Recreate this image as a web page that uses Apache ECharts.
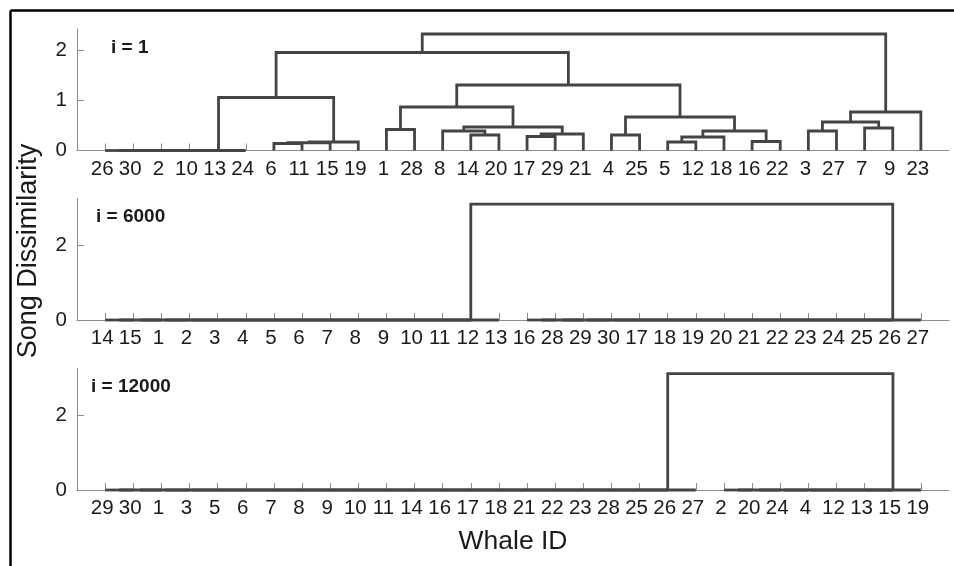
<!DOCTYPE html>
<html><head><meta charset="utf-8">
<script src="https://cdn.jsdelivr.net/npm/echarts@6/dist/echarts.min.js"></script>
<style>html,body{margin:0;padding:0;background:#fff}#c{width:954px;height:566px}</style>
</head><body><div id="c"></div>
<script>
// ---- data ----
const panelTitles = ['i = 1', 'i = 6000', 'i = 12000'];
const yTitle = 'Song Dissimilarity';
const xTitle = 'Whale ID';

// leaf order (whale IDs) left-to-right
const leafOrder1 = [26,30,2,10,13,24,6,11,15,19,1,28,8,14,20,17,29,21,4,25,5,12,18,16,22,3,27,7,9,23];
const leafOrder2 = [14,15,1,2,3,4,5,6,7,8,9,10,11,12,13,16,28,29,30,17,18,19,20,21,22,23,24,25,26,27];
const leafOrder3 = [29,30,1,3,5,6,7,8,9,10,11,14,16,17,18,21,22,23,28,25,26,27,2,20,24,4,12,13,15,19];

// linkage: [nodeA, nodeB, height]; leaves are whale IDs 1..30, merge k creates node 31+k
const links1 = [
  [26,30,0],[31,2,0],[32,10,0],[33,13,0],[34,24,0],
  [6,11,0.14],[36,15,0.155],[37,19,0.17],
  [35,38,1.06],
  [1,28,0.42],
  [14,20,0.31],[8,41,0.39],
  [17,29,0.28],[43,21,0.33],
  [42,44,0.47],
  [40,45,0.87],
  [4,25,0.31],
  [5,12,0.17],[48,18,0.27],
  [16,22,0.18],
  [49,50,0.39],
  [47,51,0.67],
  [46,52,1.31],
  [39,53,1.96],
  [3,27,0.39],[7,9,0.45],[55,56,0.57],[57,23,0.77],
  [54,58,2.33]
];
const links2 = [
  [14,15,0],[31,1,0],[32,2,0],[33,3,0],[34,4,0],[35,5,0],[36,6,0],[37,7,0],
  [38,8,0],[39,9,0],[40,10,0],[41,11,0],[42,12,0],[43,13,0],
  [16,28,0],[45,29,0],[46,30,0],[47,17,0],[48,18,0],[49,19,0],[50,20,0],
  [51,21,0],[52,22,0],[53,23,0],[54,24,0],[55,25,0],[56,26,0],[57,27,0],
  [44,58,3.12]
];
const links3 = [
  [29,30,0],[31,1,0],[32,3,0],[33,5,0],[34,6,0],[35,7,0],[36,8,0],[37,9,0],
  [38,10,0],[39,11,0],[40,14,0],[41,16,0],[42,17,0],[43,18,0],[44,21,0],
  [45,22,0],[46,23,0],[47,28,0],[48,25,0],[49,26,0],[50,27,0],
  [2,20,0],[52,24,0],[53,4,0],[54,12,0],[55,13,0],[56,15,0],[57,19,0],
  [51,58,3.13]
];

const yMaxes = [2.43, 3.27, 3.27];
const yTicks1 = [0, 1, 2];
const yTicks23 = [0, 2];

// ---- build ----
function buildLinks(order, links) {
  const n = order.length;
  const pos = {}, hgt = {};
  order.forEach((id, i) => { pos[id] = i + 1; hgt[id] = 0; });
  const out = [];
  links.forEach((l, k) => {
    const [a, b, h] = l;
    out.push({ coords: [[pos[a], hgt[a]], [pos[a], h], [pos[b], h], [pos[b], hgt[b]]] });
    const id = n + 1 + k;
    pos[id] = (pos[a] + pos[b]) / 2;
    hgt[id] = h;
  });
  return out;
}

const orders = [leafOrder1, leafOrder2, leafOrder3];
const linkSets = [links1, links2, links3];
const yTickSets = [yTicks1, yTicks23, yTicks23];

const FONT = 'Liberation Sans, Arial, Helvetica, sans-serif';
const AX = '#8c8c8c';
const LINK = '#444444';
const TXT = '#1a1a1a';
const gridTops = [29, 198.5, 368.5];

const grids = [], xAxes = [], yAxes = [], series = [];
orders.forEach((order, p) => {
  const leafPos = order.map((_, i) => i + 1);
  grids.push({ left: 77, width: 872, top: gridTops[p], height: 121.5 });
  xAxes.push({
    type: 'value', gridIndex: p, min: 0, max: 31,
    axisLine: { show: true, onZero: false, lineStyle: { color: AX, width: 1 } },
    axisTick: { show: true, inside: true, length: 7, customValues: leafPos, lineStyle: { color: AX, width: 1 } },
    axisLabel: { show: true, customValues: leafPos, formatter: v => String(order[Math.round(v) - 1]),
      fontSize: 20.5, color: TXT, margin: 8, fontFamily: FONT, padding: [0, 6, 0, 0] },
    splitLine: { show: false }
  });
  yAxes.push({
    type: 'value', gridIndex: p, min: 0, max: yMaxes[p],
    axisLine: { show: true, lineStyle: { color: AX, width: 1 } },
    axisTick: { show: true, inside: true, length: 7, customValues: yTickSets[p], lineStyle: { color: AX, width: 1 } },
    axisLabel: { show: true, customValues: yTickSets[p], fontSize: 20.5, color: TXT, margin: 10, fontFamily: FONT },
    splitLine: { show: false }
  });
  series.push({
    type: 'lines', coordinateSystem: 'cartesian2d', xAxisIndex: p, yAxisIndex: p,
    polyline: true, silent: true, animation: false, clip: false,
    lineStyle: { color: LINK, width: 2.8, opacity: 1, cap: 'butt', join: 'miter' },
    data: buildLinks(order, linkSets[p])
  });
});

const titlePos = [[111, 48], [96, 217], [91, 387]];
const graphic = [
  { type: 'line', shape: { x1: 10.5, y1: 10.5, x2: 954, y2: 10.5 }, style: { stroke: '#000', lineWidth: 2.5 } },
  { type: 'line', shape: { x1: 10.5, y1: 10.5, x2: 10.5, y2: 566 }, style: { stroke: '#000', lineWidth: 2.5 } },
  { type: 'text', x: 29, y: 251, rotation: Math.PI / 2,
    style: { text: yTitle, fontSize: 27, fill: TXT, fontFamily: FONT, align: 'center', verticalAlign: 'middle' } },
  { type: 'text', x: 513, y: 542,
    style: { text: xTitle, fontSize: 26.5, fill: TXT, fontFamily: FONT, align: 'center', verticalAlign: 'middle' } }
];
panelTitles.forEach((t, p) => {
  graphic.push({ type: 'text', x: titlePos[p][0], y: titlePos[p][1],
    style: { text: t, fontSize: 19, fontWeight: 'bold', fill: TXT, fontFamily: FONT, align: 'left', verticalAlign: 'middle' } });
});

const chart = echarts.init(document.getElementById('c'), null, { renderer: 'canvas' });
chart.setOption({
  animation: false,
  backgroundColor: '#fff',
  grid: grids, xAxis: xAxes, yAxis: yAxes, series: series, graphic: graphic
});
</script></body></html>
